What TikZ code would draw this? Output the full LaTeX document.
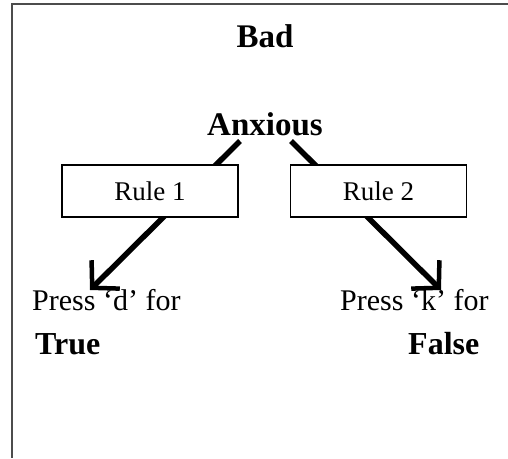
\documentclass[tikz,border=0pt]{standalone}
\usepackage{fontspec}
\setmainfont{Liberation Serif}
\usetikzlibrary{arrows.meta}
\tikzset{
  frame/.style={draw=black!70, line width=2pt},
  rulebox/.style={draw, line width=1.2pt, fill=white, minimum width=176pt, minimum height=52pt,
    inner sep=0pt, font=\fontsize{27}{27}\selectfont},
  heading/.style={anchor=base, inner sep=0pt, font=\fontsize{33}{33}\selectfont\bfseries},
  answer/.style={anchor=base west, inner sep=0pt, font=\fontsize{32}{32}\selectfont\bfseries},
  prompt/.style={anchor=base west, inner sep=0pt, font=\fontsize{30}{30}\selectfont},
  choice/.style={line width=5.5pt, -{Straight Barb[length=19pt, width=40pt, line width=4.5pt]}}
}
\begin{document}
\begin{tikzpicture}[x=1pt, y=-1pt]
  \useasboundingbox (0,0) rectangle (508,458);
  % outer frame (top and left edges)
  \draw[frame] (508,4) -- (12,4) -- (12,458);

  % titles
  \node[heading] (bad) at (265,47) {Bad};
  \node[heading] (anx) at (265,135) {Anxious};

  % arrow end points
  \coordinate (startL) at (240,141);
  \coordinate (tipL) at (90,290);
  \coordinate (startR) at (291,141);
  \coordinate (tipR) at (441,290);

  % arrows pass behind the rule boxes
  \draw[choice] (startL) -- (tipL);
  \draw[choice] (startR) -- (tipR);

  % rule boxes
  \node[rulebox] (rule1) at (150,191) {Rule 1};
  \node[rulebox] (rule2) at (378.5,191) {Rule 2};

  % responses
  \node[prompt] (pressd) at (32,310) {Press ‘d’ for};
  \node[answer] (true) at (35,354) {True};
  \node[prompt] (pressk) at (340,310) {Press ‘k’ for};
  \node[answer] (false) at (408,354) {False};
\end{tikzpicture}
\end{document}
